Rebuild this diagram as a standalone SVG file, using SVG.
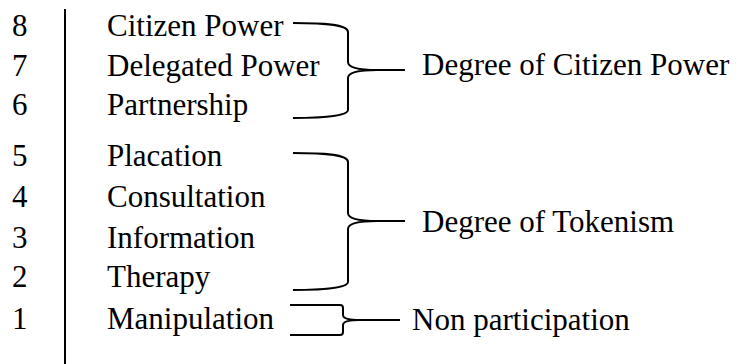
<svg xmlns="http://www.w3.org/2000/svg" width="741" height="364" viewBox="0 0 741 364">
<style>
text{font-family:"Liberation Serif","Times New Roman",serif;font-size:31px;fill:#000}
.ln{fill:none;stroke:#000;stroke-width:2}
.br{fill:none;stroke:#000;stroke-width:2;stroke-linejoin:round}
</style>
<rect width="741" height="364" fill="#fff"/>
<g id="axis"><line class="ln" x1="65" y1="9" x2="65" y2="364"/></g>
<g id="row-8"><text x="12" y="36">8</text><text x="107" y="36">Citizen Power</text></g>
<g id="row-7"><text x="12" y="76">7</text><text x="107" y="76">Delegated Power</text></g>
<g id="row-6"><text x="12" y="115">6</text><text x="107" y="115">Partnership</text></g>
<g id="row-5"><text x="12" y="166">5</text><text x="107" y="166">Placation</text></g>
<g id="row-4"><text x="12" y="207">4</text><text x="107" y="207">Consultation</text></g>
<g id="row-3"><text x="12" y="248">3</text><text x="107" y="248">Information</text></g>
<g id="row-2"><text x="12" y="287">2</text><text x="107" y="287">Therapy</text></g>
<g id="row-1"><text x="12" y="329">1</text><text x="107" y="329">Manipulation</text></g>
<g id="cat-citizen"><text x="422" y="75">Degree of Citizen Power</text></g>
<g id="cat-tokenism"><text x="422" y="232">Degree of Tokenism</text></g>
<g id="cat-non"><text x="412" y="330">Non participation</text></g>
<g id="connectors">
<path class="br" d="M293,23 C322,23 348,24 348,32 L348,62 C348,68 360,70 377,70 L405,70 M377,70 C360,70 348,72 348,78 L348,110 C348,116 322,118 293,118"/>
<path class="br" d="M293,153 C322,153 348,154 348,162 L348,213 C348,219 360,221 377,221 L405,221 M377,221 C360,221 348,223 348,229 L348,282 C348,288 322,290 293,290"/>
<path class="br" d="M290,305 L340,305 Q343,305 343,308 L343,315 C343,319 350,320 360,320 L400,320 M360,320 C350,320 343,321 343,325 L343,332 Q343,335 340,335 L290,335"/>
</g>
</svg>
